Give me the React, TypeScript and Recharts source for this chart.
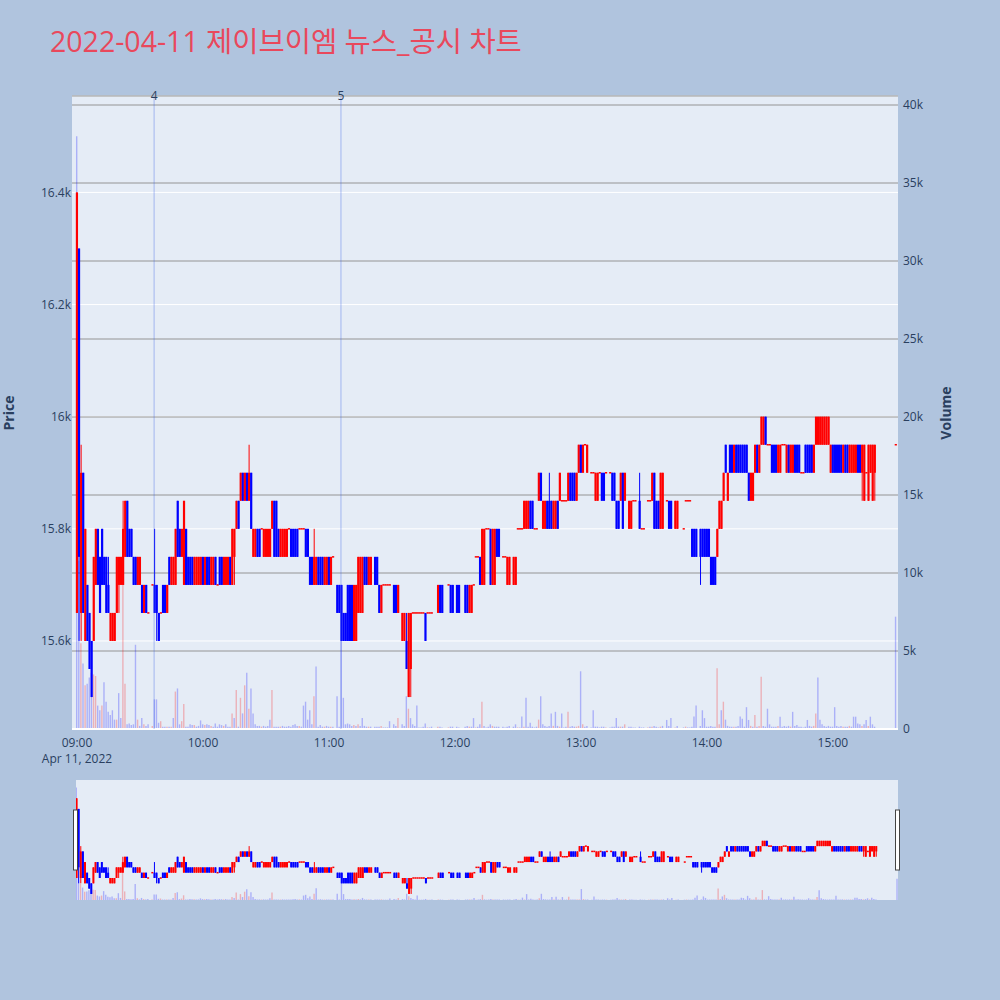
import { ComposedChart, Bar, XAxis, YAxis, CartesianGrid, ReferenceLine, Cell } from "recharts";

// [minute since 09:00, open, high, low, close, volume]
type Row = [number, number, number, number, number, number];

const hour09: Row[] = [
  [0, 15650, 16400, 15650, 16400, 38000], [1, 16300, 16300, 15600, 15750, 10800],
  [2, 15650, 15950, 15600, 15900, 5500], [3, 15900, 15900, 15650, 15650, 4200],
  [4, 15600, 15800, 15600, 15800, 2800], [5, 15700, 15700, 15600, 15600, 2900],
  [6, 15650, 15650, 15550, 15550, 3300], [7, 15600, 15600, 15500, 15500, 3600],
  [8, 15600, 15750, 15600, 15750, 3500], [9, 15700, 15800, 15700, 15800, 3400],
  [10, 15800, 15800, 15700, 15700, 1500], [11, 15750, 15750, 15650, 15650, 1200],
  [12, 15800, 15800, 15700, 15700, 1500], [13, 15750, 15750, 15700, 15700, 3000],
  [14, 15750, 15750, 15650, 15650, 1750], [15, 15700, 15750, 15650, 15650, 1100],
  [16, 15600, 15650, 15600, 15650, 900], [17, 15600, 15650, 15600, 15650, 1200],
  [18, 15600, 15650, 15600, 15650, 600], [19, 15650, 15750, 15650, 15750, 600],
  [20, 15700, 15750, 15650, 15750, 2300], [21, 15700, 15750, 15700, 15750, 700],
  [22, 15700, 15850, 15700, 15800, 12500], [23, 15750, 15850, 15750, 15850, 2900],
  [24, 15850, 15850, 15750, 15750, 300], [25, 15800, 15800, 15750, 15750, 350],
  [26, 15800, 15800, 15750, 15750, 250], [27, 15750, 15750, 15700, 15700, 300],
  [28, 15750, 15750, 15700, 15700, 5400], [29, 15700, 15750, 15700, 15750, 600],
  [30, 15700, 15750, 15700, 15750, 200], [31, 15700, 15700, 15650, 15650, 700],
  [32, 15650, 15700, 15650, 15700, 300], [33, 15700, 15700, 15650, 15650, 200],
  [34, 15650, 15650, 15650, 15650, 300], [36, 15700, 15700, 15700, 15700, 200],
  [37, 15700, 15800, 15650, 15650, 1900], [38, 15700, 15700, 15600, 15650, 1900],
  [39, 15650, 15650, 15600, 15600, 400], [40, 15650, 15650, 15650, 15650, 500],
  [41, 15700, 15700, 15650, 15650, 150], [42, 15700, 15700, 15650, 15650, 150],
  [43, 15650, 15700, 15650, 15700, 150], [44, 15750, 15750, 15700, 15700, 150],
  [45, 15700, 15750, 15700, 15750, 150], [46, 15700, 15750, 15700, 15750, 700],
  [47, 15700, 15800, 15700, 15800, 2400], [48, 15850, 15850, 15750, 15750, 2600],
  [49, 15800, 15800, 15750, 15750, 300], [50, 15750, 15800, 15750, 15800, 500],
  [51, 15700, 15850, 15700, 15850, 1600], [52, 15800, 15800, 15700, 15700, 150],
  [53, 15750, 15750, 15700, 15700, 150], [54, 15750, 15750, 15700, 15700, 300],
  [55, 15750, 15750, 15700, 15700, 250], [56, 15700, 15750, 15700, 15750, 250],
  [57, 15700, 15750, 15700, 15750, 150], [58, 15700, 15750, 15700, 15750, 200],
  [59, 15700, 15750, 15700, 15750, 550],
];

const hour10: Row[] = [
  [60, 15750, 15750, 15700, 15700, 300], [61, 15700, 15750, 15700, 15750, 250],
  [62, 15750, 15750, 15700, 15700, 300], [63, 15750, 15750, 15700, 15700, 250],
  [64, 15700, 15750, 15700, 15750, 200], [65, 15700, 15750, 15700, 15750, 150],
  [66, 15750, 15750, 15700, 15700, 350], [67, 15700, 15700, 15700, 15700, 150],
  [68, 15750, 15750, 15700, 15700, 300], [69, 15750, 15750, 15700, 15700, 250],
  [70, 15700, 15750, 15700, 15750, 200], [71, 15700, 15750, 15700, 15750, 300],
  [72, 15700, 15750, 15700, 15750, 150], [73, 15750, 15750, 15700, 15700, 150],
  [74, 15700, 15800, 15700, 15800, 1000], [75, 15750, 15800, 15700, 15800, 700],
  [76, 15800, 15850, 15800, 15850, 2500], [77, 15850, 15850, 15800, 15800, 150],
  [78, 15850, 15900, 15850, 15900, 2000], [79, 15900, 15900, 15850, 15850, 1000],
  [80, 15850, 15900, 15850, 15900, 2800], [81, 15900, 15900, 15850, 15850, 3600],
  [82, 15850, 15950, 15850, 15900, 1300], [83, 15900, 15900, 15800, 15800, 2600],
  [84, 15750, 15800, 15750, 15800, 1000], [85, 15750, 15800, 15750, 15800, 300],
  [86, 15800, 15800, 15750, 15750, 200], [87, 15800, 15800, 15750, 15750, 200],
  [88, 15800, 15800, 15800, 15800, 150], [89, 15750, 15800, 15750, 15800, 200],
  [90, 15750, 15800, 15750, 15800, 150], [91, 15750, 15800, 15750, 15800, 200],
  [92, 15750, 15800, 15750, 15800, 600], [93, 15800, 15850, 15800, 15850, 2500],
  [94, 15850, 15850, 15750, 15750, 150], [95, 15850, 15850, 15750, 15750, 150],
  [96, 15800, 15800, 15750, 15750, 150], [97, 15750, 15800, 15750, 15800, 150],
  [98, 15750, 15800, 15750, 15800, 200], [99, 15750, 15800, 15750, 15800, 150],
  [100, 15750, 15800, 15750, 15800, 150], [101, 15800, 15800, 15800, 15800, 200],
  [102, 15800, 15800, 15750, 15750, 150], [103, 15800, 15800, 15750, 15750, 250],
  [104, 15800, 15800, 15750, 15750, 300], [105, 15800, 15800, 15750, 15750, 200],
  [106, 15800, 15800, 15800, 15800, 200], [107, 15800, 15800, 15800, 15800, 150],
  [108, 15800, 15800, 15800, 15800, 1500], [109, 15800, 15800, 15750, 15750, 1750],
  [110, 15800, 15800, 15750, 15750, 600], [111, 15750, 15750, 15700, 15700, 1200],
  [112, 15750, 15750, 15700, 15700, 300], [113, 15700, 15800, 15700, 15750, 2100],
  [114, 15700, 15750, 15700, 15750, 4000], [115, 15750, 15750, 15700, 15700, 150],
  [116, 15750, 15750, 15700, 15700, 250], [117, 15750, 15750, 15700, 15700, 150],
  [118, 15700, 15750, 15700, 15750, 150], [119, 15700, 15750, 15700, 15750, 200],
];

const hour11: Row[] = [
  [120, 15750, 15750, 15700, 15700, 150], [121, 15700, 15750, 15700, 15750, 150],
  [122, 15750, 15750, 15750, 15750, 150], [124, 15700, 15700, 15650, 15650, 2100],
  [125, 15700, 15700, 15650, 15650, 150], [126, 15700, 15700, 15600, 15600, 9000],
  [127, 15650, 15650, 15600, 15600, 2000], [128, 15650, 15650, 15600, 15600, 300],
  [129, 15700, 15700, 15600, 15600, 350], [130, 15700, 15700, 15600, 15600, 300],
  [131, 15700, 15700, 15600, 15600, 200], [132, 15600, 15700, 15600, 15700, 250],
  [133, 15600, 15700, 15600, 15700, 200], [134, 15650, 15750, 15650, 15750, 300],
  [135, 15650, 15750, 15650, 15750, 200], [136, 15650, 15750, 15650, 15750, 700],
  [137, 15750, 15750, 15700, 15700, 200], [138, 15750, 15750, 15700, 15700, 150],
  [139, 15700, 15750, 15700, 15750, 150], [140, 15700, 15750, 15700, 15750, 150],
  [142, 15750, 15750, 15700, 15700, 150], [143, 15750, 15750, 15700, 15700, 150],
  [144, 15700, 15700, 15650, 15650, 150], [145, 15650, 15700, 15650, 15700, 200],
  [146, 15700, 15700, 15700, 15700, 100], [147, 15700, 15700, 15700, 15700, 100],
  [148, 15700, 15700, 15700, 15700, 100], [149, 15700, 15700, 15700, 15700, 500],
  [151, 15700, 15700, 15650, 15650, 300], [152, 15700, 15700, 15650, 15650, 200],
  [153, 15650, 15700, 15650, 15700, 700], [155, 15600, 15650, 15600, 15650, 300],
  [156, 15600, 15650, 15600, 15650, 200], [157, 15600, 15650, 15550, 15550, 2100],
  [158, 15500, 15650, 15500, 15650, 1300], [159, 15550, 15650, 15500, 15650, 700],
  [160, 15650, 15650, 15650, 15650, 300], [161, 15650, 15650, 15650, 15650, 200],
  [162, 15650, 15650, 15650, 15650, 1500], [163, 15650, 15650, 15650, 15650, 100],
  [164, 15650, 15650, 15650, 15650, 100], [165, 15650, 15650, 15650, 15650, 150],
  [166, 15650, 15650, 15600, 15600, 350], [167, 15650, 15650, 15650, 15650, 100],
  [168, 15650, 15650, 15650, 15650, 100], [169, 15650, 15650, 15650, 15650, 150],
  [172, 15650, 15700, 15650, 15700, 150], [173, 15700, 15700, 15650, 15650, 150],
  [174, 15700, 15700, 15650, 15650, 100], [177, 15700, 15700, 15700, 15700, 100],
  [178, 15700, 15700, 15650, 15650, 150], [179, 15700, 15700, 15650, 15650, 150],
];

const hour12: Row[] = [
  [181, 15700, 15700, 15650, 15650, 150], [182, 15700, 15700, 15650, 15650, 100],
  [185, 15700, 15700, 15650, 15650, 150], [186, 15700, 15700, 15650, 15650, 200],
  [187, 15650, 15700, 15650, 15700, 150], [188, 15650, 15700, 15650, 15700, 150],
  [189, 15700, 15700, 15700, 15700, 700], [190, 15750, 15750, 15750, 15750, 100],
  [191, 15750, 15750, 15750, 15750, 150], [192, 15750, 15750, 15700, 15700, 300],
  [193, 15700, 15800, 15700, 15800, 1750], [194, 15700, 15800, 15700, 15800, 200],
  [195, 15800, 15800, 15800, 15800, 100], [196, 15800, 15800, 15800, 15800, 150],
  [197, 15800, 15800, 15700, 15700, 300], [198, 15700, 15800, 15700, 15800, 200],
  [199, 15700, 15800, 15700, 15800, 150], [200, 15800, 15800, 15750, 15750, 150],
  [201, 15800, 15800, 15750, 15750, 150], [203, 15750, 15750, 15750, 15750, 150],
  [204, 15750, 15750, 15750, 15750, 100], [205, 15700, 15750, 15700, 15750, 150],
  [206, 15700, 15750, 15700, 15750, 200], [208, 15700, 15750, 15700, 15750, 150],
  [209, 15700, 15750, 15700, 15750, 300], [210, 15800, 15800, 15800, 15800, 100],
  [211, 15800, 15800, 15800, 15800, 100], [212, 15800, 15800, 15800, 15800, 800],
  [213, 15800, 15850, 15800, 15850, 150], [214, 15800, 15850, 15800, 15850, 2000],
  [215, 15800, 15850, 15800, 15850, 150], [216, 15850, 15850, 15800, 15800, 400],
  [217, 15850, 15850, 15800, 15800, 150], [218, 15800, 15800, 15800, 15800, 100],
  [219, 15800, 15800, 15800, 15800, 150], [220, 15850, 15900, 15850, 15900, 600],
  [221, 15900, 15900, 15850, 15850, 2100], [222, 15800, 15850, 15800, 15850, 300],
  [223, 15800, 15850, 15800, 15850, 200], [224, 15850, 15850, 15800, 15800, 150],
  [225, 15850, 15900, 15800, 15800, 200], [226, 15850, 15850, 15800, 15800, 1000],
  [227, 15800, 15850, 15800, 15850, 200], [228, 15800, 15850, 15800, 15850, 1100],
  [229, 15850, 15850, 15800, 15800, 200], [230, 15850, 15900, 15850, 15900, 150],
  [231, 15850, 15850, 15850, 15850, 1000], [232, 15850, 15850, 15850, 15850, 100],
  [233, 15850, 15850, 15850, 15850, 150], [234, 15850, 15900, 15850, 15900, 1100],
  [235, 15900, 15900, 15850, 15850, 150], [236, 15900, 15900, 15850, 15850, 200],
  [237, 15900, 15900, 15850, 15850, 150], [238, 15850, 15900, 15850, 15900, 150],
  [239, 15900, 15950, 15900, 15950, 200],
];

const hour13: Row[] = [
  [240, 15950, 15950, 15900, 15900, 3700], [241, 15900, 15950, 15900, 15950, 300],
  [242, 15950, 15950, 15950, 15950, 150], [243, 15900, 15950, 15900, 15950, 200],
  [245, 15900, 15900, 15900, 15900, 100], [246, 15900, 15900, 15900, 15900, 1200],
  [247, 15850, 15900, 15850, 15900, 150], [248, 15850, 15900, 15850, 15900, 150],
  [249, 15900, 15900, 15900, 15900, 100], [250, 15900, 15900, 15850, 15850, 150],
  [251, 15900, 15900, 15850, 15850, 150], [252, 15900, 15900, 15900, 15900, 100],
  [254, 15900, 15900, 15900, 15900, 100], [255, 15900, 15900, 15850, 15850, 150],
  [256, 15900, 15900, 15850, 15850, 150], [257, 15850, 15850, 15800, 15800, 700],
  [258, 15850, 15850, 15800, 15800, 150], [259, 15850, 15900, 15850, 15900, 150],
  [260, 15900, 15900, 15800, 15800, 150], [261, 15850, 15900, 15850, 15900, 300],
  [263, 15800, 15850, 15800, 15850, 150], [264, 15800, 15850, 15800, 15850, 150],
  [265, 15850, 15850, 15850, 15850, 100], [266, 15850, 15850, 15850, 15850, 100],
  [268, 15850, 15900, 15800, 15800, 150], [269, 15800, 15800, 15800, 15800, 100],
  [270, 15800, 15800, 15800, 15800, 100], [272, 15850, 15850, 15850, 15850, 100],
  [273, 15850, 15850, 15850, 15850, 150], [274, 15850, 15900, 15850, 15900, 150],
  [275, 15900, 15900, 15800, 15800, 200], [276, 15850, 15850, 15800, 15800, 150],
  [277, 15850, 15850, 15800, 15800, 100], [278, 15800, 15900, 15800, 15900, 150],
  [279, 15800, 15900, 15800, 15900, 200], [281, 15850, 15850, 15850, 15850, 580],
  [282, 15850, 15850, 15800, 15800, 200], [283, 15850, 15850, 15800, 15800, 700],
  [285, 15800, 15850, 15800, 15850, 100], [286, 15800, 15850, 15800, 15850, 200],
  [289, 15800, 15800, 15800, 15800, 100], [290, 15850, 15850, 15850, 15850, 150],
  [291, 15850, 15850, 15850, 15850, 100], [292, 15850, 15850, 15850, 15850, 100],
  [293, 15800, 15800, 15750, 15750, 150], [294, 15800, 15800, 15750, 15750, 800],
  [295, 15800, 15800, 15750, 15750, 1500], [297, 15800, 15800, 15700, 15750, 200],
  [298, 15800, 15800, 15750, 15750, 1200], [299, 15800, 15800, 15750, 15750, 700],
];

const hour14: Row[] = [
  [300, 15800, 15800, 15750, 15750, 150], [301, 15800, 15800, 15750, 15750, 150],
  [302, 15750, 15750, 15700, 15700, 200], [303, 15750, 15750, 15700, 15700, 150],
  [304, 15750, 15750, 15700, 15700, 150], [305, 15750, 15800, 15750, 15800, 3900],
  [306, 15800, 15850, 15800, 15850, 300], [307, 15800, 15850, 15800, 15850, 1200],
  [308, 15850, 15900, 15850, 15900, 1750], [309, 15950, 15950, 15900, 15900, 600],
  [310, 15850, 15900, 15850, 15900, 200], [311, 15950, 15950, 15900, 15900, 150],
  [312, 15950, 15950, 15900, 15900, 150], [313, 15900, 15950, 15900, 15950, 150],
  [314, 15950, 15950, 15900, 15900, 150], [315, 15950, 15950, 15900, 15900, 200],
  [316, 15950, 15950, 15900, 15900, 800], [317, 15950, 15950, 15900, 15900, 650],
  [318, 15950, 15950, 15900, 15900, 150], [319, 15950, 15950, 15900, 15900, 1400],
  [320, 15900, 15900, 15850, 15850, 580], [321, 15850, 15900, 15850, 15900, 200],
  [322, 15850, 15900, 15850, 15900, 150], [323, 15900, 15950, 15900, 15950, 900],
  [324, 15950, 15950, 15900, 15900, 150], [325, 15900, 15950, 15900, 15950, 200],
  [326, 15950, 16000, 15950, 16000, 3350], [327, 15950, 16000, 15950, 16000, 200],
  [328, 16000, 16000, 15950, 15950, 150], [329, 15950, 15950, 15950, 15950, 1300],
  [330, 15950, 15950, 15950, 15950, 300], [331, 15950, 15950, 15900, 15900, 150],
  [332, 15950, 15950, 15900, 15900, 150], [333, 15950, 15950, 15900, 15900, 150],
  [334, 15900, 15950, 15900, 15950, 200], [335, 15900, 15950, 15900, 15950, 790],
  [336, 15950, 15950, 15950, 15950, 150], [337, 15950, 15950, 15950, 15950, 200],
  [338, 15900, 15950, 15900, 15950, 150], [339, 15950, 15950, 15900, 15900, 200],
  [340, 15900, 15950, 15900, 15950, 150], [341, 15900, 15950, 15900, 15950, 1100],
  [342, 15950, 15950, 15900, 15900, 200], [343, 15950, 15950, 15900, 15900, 250],
  [344, 15950, 15950, 15900, 15900, 150], [345, 15900, 15900, 15900, 15900, 150],
  [346, 15900, 15900, 15900, 15900, 100], [347, 15950, 15950, 15900, 15900, 150],
  [348, 15950, 15950, 15900, 15900, 580], [349, 15950, 15950, 15900, 15900, 200],
  [350, 15950, 15950, 15900, 15900, 150], [351, 15900, 15950, 15900, 15950, 200],
  [352, 15950, 16000, 15950, 16000, 1000], [353, 15950, 16000, 15950, 16000, 3300],
  [354, 15950, 16000, 15950, 16000, 600], [355, 15950, 16000, 15950, 16000, 300],
  [356, 15950, 16000, 15950, 16000, 200], [357, 15950, 16000, 15950, 16000, 150],
  [358, 15950, 16000, 15950, 16000, 200], [359, 15900, 15950, 15900, 15950, 150],
];

const hour15: Row[] = [
  [360, 15950, 15950, 15900, 15900, 150], [361, 15950, 15950, 15900, 15900, 1400],
  [362, 15950, 15950, 15900, 15900, 200], [363, 15950, 15950, 15900, 15900, 150],
  [364, 15950, 15950, 15900, 15900, 200], [365, 15900, 15950, 15900, 15950, 150],
  [366, 15950, 15950, 15900, 15900, 150], [367, 15950, 15950, 15900, 15900, 150],
  [368, 15900, 15950, 15900, 15950, 200], [369, 15900, 15950, 15900, 15950, 150],
  [370, 15900, 15950, 15900, 15950, 790], [371, 15900, 15950, 15900, 15950, 790],
  [372, 15950, 15950, 15900, 15900, 350], [373, 15950, 15950, 15900, 15900, 300],
  [374, 15900, 15950, 15850, 15950, 200], [375, 15850, 15950, 15850, 15950, 300],
  [376, 15900, 15900, 15900, 15900, 580], [377, 15850, 15950, 15850, 15950, 200],
  [378, 15900, 15950, 15900, 15950, 790], [379, 15850, 15950, 15850, 15950, 300],
  [380, 15900, 15950, 15850, 15950, 150], [390, 15950, 15950, 15950, 15950, 7200],
];

const newsMarks = [
  { m: 36.7, label: "4" },
  { m: 125.7, label: "5" },
];

const priceTicks = [15600, 15800, 16000, 16200, 16400];
const volumeTicks = [0, 5000, 10000, 15000, 20000, 25000, 30000, 35000, 40000];
const timeTicks = [0, 60, 120, 180, 240, 300, 360];
const timeLabels = ["09:00", "10:00", "11:00", "12:00", "13:00", "14:00", "15:00"];

const UP = "#ff0000";
const DOWN = "#0000ff";
const UP_VOL = "rgba(255,0,0,0.25)";
const DOWN_VOL = "rgba(0,0,255,0.25)";
const PRICE_DOMAIN = [15443, 16572];
const VOL_DOMAIN = [0, 40577];
const TEXT = "#2a3f5f";
const FONT = "'Open Sans', 'Noto Sans CJK KR', sans-serif";

const rows = [...hour09, ...hour10, ...hour11, ...hour12, ...hour13, ...hour14, ...hour15];
// volume bar is red only when the close rose above the previous close
const data = rows.map(([m, o, h, l, c, v], i) => ({
  m, o, h, l, c, v,
  range: [l, h],
  volUp: i > 0 && c > rows[i - 1][4],
}));

function makeCandle(bodyW: number) {
  return function Candle(props: any) {
    const { x, y, width, height, payload } = props;
    if (x == null || y == null) return null;
    const { o, h, l, c } = payload;
    const color = c >= o ? UP : DOWN;
    const cx = x + width / 2;
    const top = Math.min(y, y + height);
    const span = Math.abs(height);
    const ppu = h > l ? span / (h - l) : 0;
    const yo = top + (h - o) * ppu;
    const yc = top + (h - c) * ppu;
    const bodyTop = Math.min(yo, yc);
    const bodyH = Math.abs(yc - yo);
    return (
      <g>
        {span > 0 && <line x1={cx} x2={cx} y1={top} y2={top + span} stroke={color} strokeWidth={1} />}
        {bodyH > 0 ? (
          <rect x={cx - bodyW / 2} y={bodyTop} width={bodyW} height={bodyH} fill={color} />
        ) : (
          <rect x={cx - bodyW / 2} y={bodyTop - 0.75} width={bodyW} height={1.5} fill={color} />
        )}
      </g>
    );
  };
}

const MainCandle = makeCandle(2.2);
const MiniCandle = makeCandle(2);

function TimeTick(props: any) {
  const { x, y, payload } = props;
  const idx = timeTicks.indexOf(payload.value);
  return (
    <g>
      <text x={x} y={y + 16} textAnchor="middle" fontSize={12} fill={TEXT} fontFamily={FONT}>
        {timeLabels[idx]}
      </text>
      {idx === 0 && (
        <text x={x} y={y + 32} textAnchor="middle" fontSize={12} fill={TEXT} fontFamily={FONT}>
          Apr 11, 2022
        </text>
      )}
    </g>
  );
}

function NewsLabel(text: string) {
  return function Label(props: any) {
    const vb = props.viewBox || {};
    return (
      <text x={vb.x} y={(vb.y ?? 96) + 4} textAnchor="middle" fontSize={12} fill={TEXT} fontFamily={FONT}>
        {text}
      </text>
    );
  };
}

const kFormat = (v: number) => (v === 0 ? "0" : `${v / 1000}k`);

export default function App() {
  return (
    <div style={{ position: "fixed", left: 0, top: 0, width: 1000, height: 1000, background: "#b0c4de", fontFamily: FONT }}>
      <div style={{ position: "absolute", left: 72, top: 96, width: 826, height: 633, background: "#e5ecf6" }} />
      <div style={{ position: "absolute", left: 0, top: 0 }}>
        <ComposedChart width={1000} height={800} data={data} margin={{ top: 96, left: 12, right: 42, bottom: 31 }}>
          <CartesianGrid yAxisId="price" xAxisId="px" vertical={false} stroke="#ffffff" strokeWidth={1} />
          <CartesianGrid yAxisId="vol" xAxisId="vx" vertical={false} stroke="#949494" strokeWidth={1} />
          <XAxis
            xAxisId="px"
            dataKey="m"
            type="number"
            domain={[-2.4, 391]}
            ticks={timeTicks}
            interval={0}
            allowDataOverflow
            axisLine={false}
            tickLine={false}
            tickSize={0}
            height={40}
            tick={<TimeTick />}
          />
          <XAxis xAxisId="vx" dataKey="m" type="number" domain={[-2.4, 391]} allowDataOverflow hide />
          <YAxis
            yAxisId="price"
            orientation="left"
            domain={PRICE_DOMAIN}
            ticks={priceTicks}
            allowDataOverflow
            width={60}
            axisLine={false}
            tickLine={false}
            tickSize={0}
            tickMargin={1}
            tickFormatter={kFormat}
            tick={{ fontSize: 12, fill: TEXT, fontFamily: FONT }}
          />
          <YAxis
            yAxisId="vol"
            orientation="right"
            domain={VOL_DOMAIN}
            ticks={volumeTicks}
            allowDataOverflow
            width={60}
            axisLine={false}
            tickLine={false}
            tickSize={0}
            tickMargin={5}
            tickFormatter={kFormat}
            tick={{ fontSize: 12, fill: TEXT, fontFamily: FONT }}
          />
          <ReferenceLine yAxisId="vol" xAxisId="vx" y={0} stroke="#ffffff" strokeWidth={2} />
          <Bar xAxisId="vx" yAxisId="vol" dataKey="v" barSize={1.4} isAnimationActive={false}>
            {data.map((d, i) => (
              <Cell key={i} fill={d.volUp ? UP_VOL : DOWN_VOL} />
            ))}
          </Bar>
          <Bar xAxisId="px" yAxisId="price" dataKey="range" barSize={2.2} shape={<MainCandle />} isAnimationActive={false} />
          {newsMarks.map((n) => (
            <ReferenceLine
              key={n.label}
              xAxisId="px"
              yAxisId="price"
              x={n.m}
              stroke="rgba(60,100,230,0.4)"
              strokeWidth={1}
              label={NewsLabel(n.label)}
            />
          ))}
        </ComposedChart>
      </div>

      {/* range slider */}
      <div style={{ position: "absolute", left: 76, top: 780, width: 822, height: 120, background: "#e5ecf6" }}>
        <ComposedChart width={822} height={120} data={data} margin={{ top: 0, left: 0, right: 0, bottom: 0 }}>
          <XAxis xAxisId="px" dataKey="m" type="number" domain={[-0.3, 390.3]} allowDataOverflow hide />
          <XAxis xAxisId="vx" dataKey="m" type="number" domain={[-0.3, 390.3]} allowDataOverflow hide />
          <YAxis yAxisId="price" domain={PRICE_DOMAIN} allowDataOverflow hide />
          <YAxis yAxisId="vol" domain={VOL_DOMAIN} allowDataOverflow hide />
          <Bar xAxisId="vx" yAxisId="vol" dataKey="v" barSize={1.4} isAnimationActive={false}>
            {data.map((d, i) => (
              <Cell key={i} fill={d.volUp ? UP_VOL : DOWN_VOL} />
            ))}
          </Bar>
          <Bar xAxisId="px" yAxisId="price" dataKey="range" barSize={2} shape={<MiniCandle />} isAnimationActive={false} />
        </ComposedChart>
      </div>

      <svg width={1000} height={1000} style={{ position: "absolute", left: 0, top: 0, pointerEvents: "none" }}>
        <text x={50} y={52} fontSize={28.5} fill="#e9485c" fontFamily={FONT}>
          2022-04-11 제이브이엠 뉴스_공시 차트
        </text>
        <text x={0} y={0} transform="translate(14,413) rotate(-90)" textAnchor="middle" fontSize={14} fontWeight="bold" fill={TEXT} fontFamily={FONT}>
          Price
        </text>
        <text x={0} y={0} transform="translate(951,413) rotate(-90)" textAnchor="middle" fontSize={14} fontWeight="bold" fill={TEXT} fontFamily={FONT}>
          Volume
        </text>
        <rect x={73.5} y={810} width={4} height={60} fill="#ffffff" stroke="#444444" strokeWidth={1} />
        <rect x={895.5} y={810} width={4} height={60} fill="#ffffff" stroke="#444444" strokeWidth={1} />
      </svg>
    </div>
  );
}
